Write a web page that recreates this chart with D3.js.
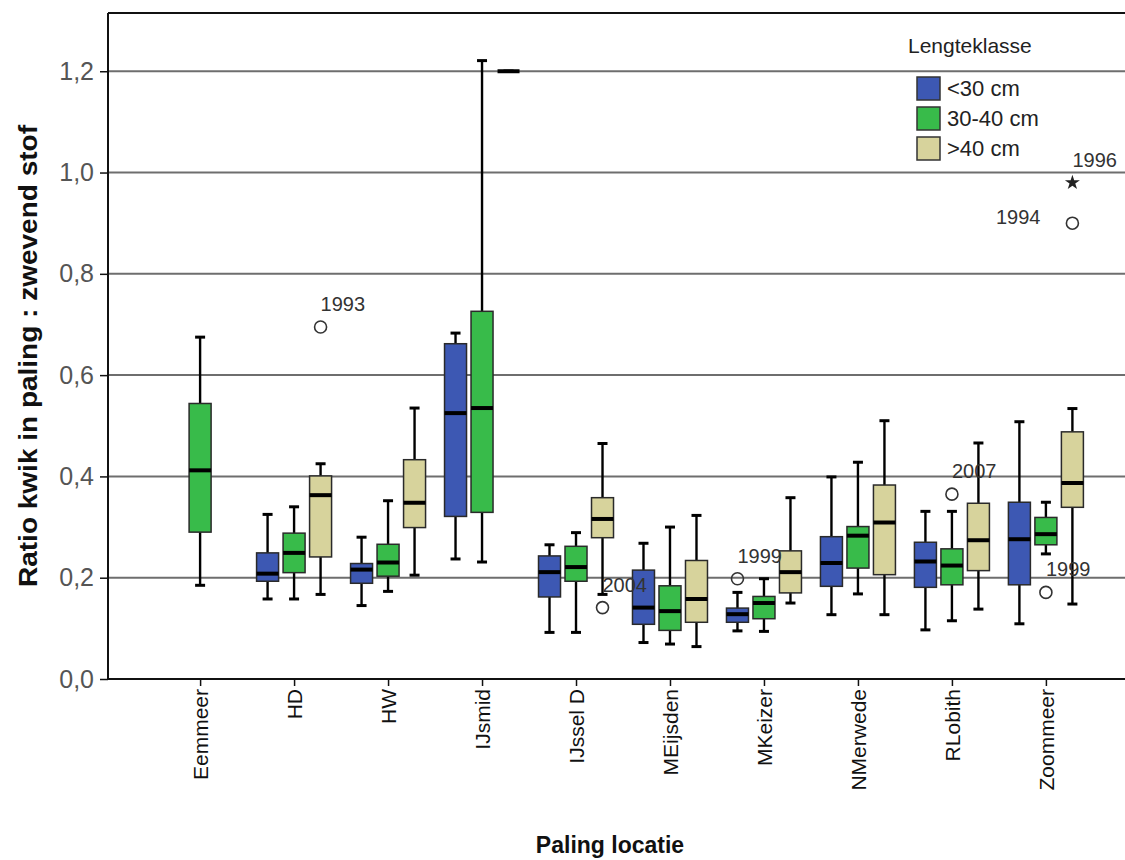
<!DOCTYPE html>
<html>
<head>
<meta charset="utf-8">
<script src="https://cdn.jsdelivr.net/npm/d3@7"></script>
<style>
  html, body { margin: 0; padding: 0; background: #fff; }
  svg { display: block; font-family: "Liberation Sans", Arial, sans-serif; }
</style>
</head>
<body>
<svg id="chart" width="1125" height="860"></svg>
<script>
// Locations on the x axis
const locations = ["Eemmeer", "HD", "HW", "IJsmid", "IJssel D", "MEijsden", "MKeizer", "NMerwede", "RLobith", "Zoommeer"];

// Length classes (legend)
const lengthClasses = ["<30 cm", "30-40 cm", ">40 cm"];

// Box statistics per location: [min whisker, Q1, median, Q3, max whisker]
const under30 = [
  null,
  [0.158, 0.193, 0.208, 0.249, 0.325],
  [0.145, 0.189, 0.216, 0.228, 0.280],
  [0.237, 0.321, 0.525, 0.662, 0.683],
  [0.092, 0.162, 0.211, 0.243, 0.265],
  [0.072, 0.108, 0.141, 0.215, 0.268],
  [0.095, 0.112, 0.128, 0.140, 0.171],
  [0.127, 0.183, 0.229, 0.281, 0.399],
  [0.097, 0.181, 0.232, 0.270, 0.331],
  [0.109, 0.186, 0.276, 0.349, 0.508]
];
const from30to40 = [
  [0.185, 0.290, 0.412, 0.544, 0.675],
  [0.158, 0.210, 0.249, 0.288, 0.340],
  [0.173, 0.203, 0.230, 0.266, 0.352],
  [0.231, 0.329, 0.535, 0.726, 1.221],
  [0.092, 0.193, 0.221, 0.262, 0.289],
  [0.069, 0.096, 0.134, 0.184, 0.300],
  [0.094, 0.119, 0.150, 0.163, 0.198],
  [0.168, 0.219, 0.283, 0.301, 0.428],
  [0.115, 0.186, 0.224, 0.257, 0.331],
  [0.247, 0.265, 0.286, 0.319, 0.349]
];
const over40 = [
  null,
  [0.167, 0.241, 0.363, 0.401, 0.425],
  [0.205, 0.299, 0.348, 0.433, 0.535],
  [1.200, 1.200, 1.200, 1.200, 1.200],
  [0.167, 0.279, 0.316, 0.358, 0.465],
  [0.064, 0.112, 0.158, 0.234, 0.323],
  [0.150, 0.170, 0.211, 0.253, 0.358],
  [0.127, 0.206, 0.309, 0.383, 0.510],
  [0.138, 0.214, 0.274, 0.347, 0.466],
  [0.148, 0.339, 0.387, 0.488, 0.534]
];

// Outliers (circle) and extremes (star), labelled with their year
const outlierLoc   = ["HD", "IJssel D", "MKeizer", "RLobith", "Zoommeer", "Zoommeer", "Zoommeer"];
const outlierClass = [">40 cm", ">40 cm", "<30 cm", "30-40 cm", "30-40 cm", ">40 cm", ">40 cm"];
const outlierValue = [0.695, 0.141, 0.198, 0.365, 0.171, 0.900, 0.980];
const outlierYear  = ["1993", "2004", "1999", "2007", "1999", "1994", "1996"];
const outlierKind  = ["circle", "circle", "circle", "circle", "circle", "circle", "star"];

// Y axis ticks
const yTicks = [0, 0.2, 0.4, 0.6, 0.8, 1.0, 1.2];

const colors = { "<30 cm": "#3d58b3", "30-40 cm": "#38bb4a", ">40 cm": "#d7d39c" };
const seriesByClass = { "<30 cm": under30, "30-40 cm": from30to40, ">40 cm": over40 };

const svg = d3.select("#chart");
const plot = { left: 108, right: 1138, top: 13, bottom: 679 };

const y = d3.scaleLinear().domain([0, 1.315]).range([plot.bottom, plot.top]);
const x = d3.scalePoint().domain(locations).range([plot.left, plot.right]).padding(0.98);
const xSub = d3.scalePoint().domain(lengthClasses).range([-26.5, 26.5]);
const boxW = 22;
const capW = 10;

const fmt = v => d3.format(".1f")(v).replace(".", ",");

// Grid lines
svg.append("g")
  .selectAll("line")
  .data(yTicks.filter(t => t > 0))
  .join("line")
  .attr("x1", plot.left).attr("x2", plot.right)
  .attr("y1", d => y(d)).attr("y2", d => y(d))
  .attr("stroke", "#6e6e6e").attr("stroke-width", 2);

// Frame top edge
svg.append("line").attr("x1", plot.left).attr("x2", plot.right)
  .attr("y1", plot.top).attr("y2", plot.top).attr("stroke", "#111").attr("stroke-width", 2);

// Y axis
const yAxis = svg.append("g")
  .attr("transform", `translate(${plot.left},0)`)
  .call(d3.axisLeft(y).tickValues(yTicks).tickFormat(fmt).tickSize(8).tickPadding(6));
yAxis.select(".domain").attr("stroke", "#111").attr("stroke-width", 2)
  .attr("d", `M0,${plot.top}V${plot.bottom}`);
yAxis.selectAll(".tick line").attr("stroke", "#111").attr("stroke-width", 1.5);
yAxis.selectAll(".tick text").attr("font-size", 25).attr("fill", "#555")
  .attr("font-family", "Liberation Sans, Arial, sans-serif");

// X axis
const xAxis = svg.append("g")
  .attr("transform", `translate(0,${plot.bottom})`)
  .call(d3.axisBottom(x).tickSize(7).tickPadding(2));
xAxis.select(".domain").attr("stroke", "#111").attr("stroke-width", 2)
  .attr("d", `M${plot.left},0H${plot.right}`);
xAxis.selectAll(".tick line").attr("stroke", "#111").attr("stroke-width", 1.5);
xAxis.selectAll(".tick text")
  .attr("font-size", 21).attr("fill", "#111")
  .attr("font-family", "Liberation Sans, Arial, sans-serif")
  .attr("text-anchor", "end")
  .attr("transform", "rotate(-90)")
  .attr("x", -10).attr("y", 0).attr("dy", "0.36em");

// Boxes
const boxes = [];
lengthClasses.forEach(cls => {
  seriesByClass[cls].forEach((s, i) => {
    if (s) boxes.push({ loc: locations[i], cls, s });
  });
});

const bx = d => x(d.loc) + xSub(d.cls);
const gBox = svg.append("g").selectAll("g").data(boxes).join("g");

// whiskers
gBox.append("line")
  .attr("x1", bx).attr("x2", bx)
  .attr("y1", d => y(d.s[0])).attr("y2", d => y(d.s[4]))
  .attr("stroke", "#000").attr("stroke-width", 2.4);
gBox.selectAll(".cap").data(d => [[d, d.s[0]], [d, d.s[4]]]).join("line")
  .attr("x1", p => bx(p[0]) - capW / 2).attr("x2", p => bx(p[0]) + capW / 2)
  .attr("y1", p => y(p[1])).attr("y2", p => y(p[1]))
  .attr("stroke", "#000").attr("stroke-width", 3);
// box body
gBox.append("rect")
  .attr("x", d => bx(d) - boxW / 2).attr("width", boxW)
  .attr("y", d => y(d.s[3])).attr("height", d => y(d.s[1]) - y(d.s[3]))
  .attr("fill", d => colors[d.cls])
  .attr("stroke", "#2a2a2a").attr("stroke-width", 1.5);
// median
gBox.append("line")
  .attr("x1", d => bx(d) - boxW / 2).attr("x2", d => bx(d) + boxW / 2)
  .attr("y1", d => y(d.s[2])).attr("y2", d => y(d.s[2]))
  .attr("stroke", "#000").attr("stroke-width", 4);

// Outliers
const outliers = outlierValue.map((v, i) => ({
  loc: outlierLoc[i], cls: outlierClass[i], v, year: outlierYear[i], kind: outlierKind[i]
}));
const star = d3.symbol().type(d3.symbolStar).size(70);
outliers.forEach(o => {
  const cx = x(o.loc) + xSub(o.cls);
  const cy = y(o.v);
  if (o.kind === "circle") {
    svg.append("circle").attr("cx", cx).attr("cy", cy).attr("r", 6)
      .attr("fill", "none").attr("stroke", "#333").attr("stroke-width", 1.6);
  } else {
    svg.append("path").attr("d", star()).attr("transform", `translate(${cx},${cy})`)
      .attr("fill", "#222");
  }
  const leftSide = o.year === "1994";
  svg.append("text")
    .attr("x", leftSide ? cx - 32 : cx)
    .attr("y", leftSide ? cy + 1 : cy - 16)
    .attr("text-anchor", leftSide ? "end" : "start")
    .attr("font-size", 20).attr("fill", "#333")
    .text(o.year);
});

// Legend
const legend = svg.append("g");
legend.append("text").attr("x", 908).attr("y", 53)
  .attr("font-size", 21).attr("fill", "#222").text("Lengteklasse");
const li = legend.selectAll("g.item").data(lengthClasses).join("g")
  .attr("transform", (d, i) => `translate(917,${77 + i * 30})`);
li.append("rect").attr("width", 23).attr("height", 23)
  .attr("fill", d => colors[d]).attr("stroke", "#333").attr("stroke-width", 1.5);
li.append("text").attr("x", 30).attr("y", 11.5).attr("dy", "0.36em")
  .attr("font-size", 22).attr("fill", "#222").text(d => d);

// Axis titles
svg.append("text")
  .attr("transform", `translate(37,356) rotate(-90)`)
  .attr("text-anchor", "middle")
  .attr("font-size", 25).attr("font-weight", "bold").attr("fill", "#111")
  .attr("textLength", 462).attr("lengthAdjust", "spacingAndGlyphs")
  .text("Ratio kwik in paling : zwevend stof");
svg.append("text")
  .attr("x", 610).attr("y", 853)
  .attr("text-anchor", "middle")
  .attr("font-size", 23).attr("font-weight", "bold").attr("fill", "#111")
  .text("Paling locatie");
</script>
</body>
</html>
